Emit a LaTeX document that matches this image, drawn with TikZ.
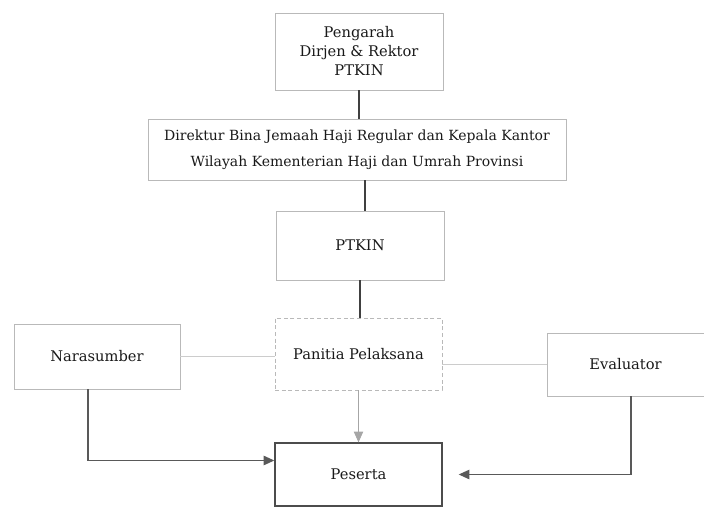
\documentclass[tikz,border=0pt]{standalone}
\usepackage{fontspec}
\setmainfont{DejaVu Serif}
\usetikzlibrary{arrows.meta}
\begin{document}
\begin{tikzpicture}[x=0.75pt, y=-0.75pt, >={Triangle[length=8pt,width=7pt]},
  box/.style={draw=gray!55, line width=0.5pt, inner sep=0pt, align=center, text=black!90, font=\fontsize{11}{14.25}\selectfont},
  link/.style={draw=black!75, line width=0.8pt},
  side/.style={draw=gray!40, line width=0.4pt},
  feed/.style={draw=black!65, line width=1.1pt}]
\useasboundingbox (0,0) rectangle (704,508);
\node (pengarah) [box, minimum width=126pt, minimum height=57.75pt] at (359,51.5) {Pengarah\\Dirjen \& Rektor\\PTKIN};
\node (direktur) [box, minimum width=313.5pt, minimum height=45.75pt, font=\fontsize{10.5}{19.3}\selectfont] at (357,149.5) {Direktur Bina Jemaah Haji Regular dan Kepala Kantor\\Wilayah Kementerian Haji dan Umrah Provinsi};
\node (ptkin) [box, minimum width=126pt, minimum height=51.75pt] at (360,245.5) {PTKIN};
\node (panitia) [box, densely dashed, minimum width=125.25pt, minimum height=54pt] at (358.5,354) {Panitia Pelaksana};
\node (narasumber) [box, minimum width=124.5pt, minimum height=48.75pt] at (97,356.5) {Narasumber};
\node (evaluator) [box, minimum width=117.75pt, minimum height=47.25pt] at (625.5,364.5) {Evaluator};
\node (peserta) [box, draw=black!70, line width=1pt, minimum width=125.25pt, minimum height=47.25pt] at (358.5,474.5) {Peserta};
\draw[link] (pengarah.south) -- (pengarah.south |- direktur.north);
\draw[link] ([xshift=6pt]direktur.south) -- ([xshift=6pt]direktur.south |- ptkin.north);
\draw[link] (ptkin.south) -- (ptkin.south |- panitia.north);
\draw[side] (narasumber.east) -- (narasumber.east -| panitia.west);
\draw[side] (panitia.east |- evaluator.west) -- (evaluator.west);
\draw[draw=gray!70, line width=0.6pt, ->] (panitia) -- (peserta);
\draw[feed, ->] ([xshift=-6.75pt]narasumber.south) |- ([yshift=10.5pt]peserta.west);
\draw[feed, ->, shorten >=12pt] ([xshift=4pt]evaluator.south) |- (peserta.east);
\end{tikzpicture}
\end{document}
